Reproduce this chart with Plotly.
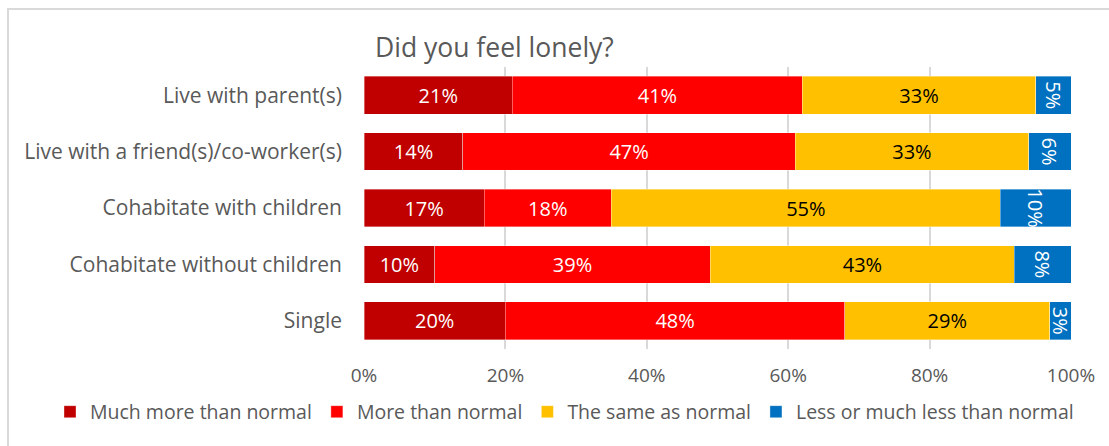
import plotly.graph_objects as go

categories = [
    "Live with parent(s)",
    "Live with a friend(s)/co-worker(s)",
    "Cohabitate with children",
    "Cohabitate without children",
    "Single",
]
much_more = [21, 14, 17, 10, 20]
more = [41, 47, 18, 39, 48]
same = [33, 33, 55, 43, 29]
less = [5, 6, 10, 8, 3]

series = [
    ("Much more than normal", much_more, "#C00000", "white", 0),
    ("More than normal", more, "#FF0000", "white", 0),
    ("The same as normal", same, "#FFC000", "black", 0),
    ("Less or much less than normal", less, "#0070C0", "white", 90),
]

FONT = "Open Sans"
GREY = "#595959"
W, H = 1109, 446
L, R, T, B = 364, 38, 67, 97
pw, ph = W - L - R, H - T - B

fig = go.Figure()
for name, vals, color, tcolor, angle in series:
    fig.add_trace(go.Bar(
        name=name,
        y=categories,
        x=vals,
        orientation="h",
        marker=dict(color=color, line=dict(color="rgba(255,255,255,0.45)", width=0.8)),
        text=[f"{v}%" for v in vals],
        textposition="inside",
        insidetextanchor="middle",
        textangle=angle,
        constraintext="none",
        textfont=dict(family=FONT, size=20, color=tcolor),
        cliponaxis=True,
    ))


def px_x(p):
    return (p - L) / pw


def px_y(p):
    return (H - B - p) / ph


fig.update_layout(
    barmode="stack",
    bargap=0.33,
    width=W,
    height=H,
    margin=dict(l=L, r=R, t=T, b=B),
    paper_bgcolor="white",
    plot_bgcolor="white",
    font=dict(family=FONT, color=GREY),
    showlegend=True,
    legend=dict(
        orientation="h",
        x=px_x(50),
        xanchor="left",
        y=px_y(412),
        yanchor="middle",
        font=dict(family=FONT, size=19.5, color=GREY),
        itemwidth=30,
        traceorder="normal",
    ),
    xaxis=dict(
        range=[0, 100],
        tickvals=[0, 20, 40, 60, 80, 100],
        ticktext=["0%", "20%", "40%", "60%", "80%", "100%"],
        showgrid=True,
        gridcolor="#d9d9d9",
        gridwidth=1.5,
        zeroline=False,
        showline=False,
        tickfont=dict(family=FONT, size=19, color=GREY),
        ticklabelstandoff=13,
        fixedrange=True,
    ),
    yaxis=dict(
        categoryorder="array",
        categoryarray=categories[::-1],
        showgrid=False,
        zeroline=False,
        showline=False,
        tickfont=dict(family=FONT, size=21, color=GREY),
        ticklabelstandoff=21,
        fixedrange=True,
    ),
    annotations=[
        dict(
            text="Did you feel lonely?",
            xref="paper", yref="paper",
            x=px_x(373), y=px_y(47),
            xanchor="left", yanchor="middle",
            showarrow=False,
            font=dict(family=FONT, size=26.5, color=GREY),
        )
    ],
    shapes=[
        dict(
            type="rect", xref="paper", yref="paper",
            x0=px_x(8), x1=px_x(W + 10),
            y0=px_y(H + 10), y1=px_y(9),
            line=dict(color="#d9d9d9", width=2),
            fillcolor="rgba(0,0,0,0)",
            layer="below",
        )
    ],
)

fig.write_html("out.html")
